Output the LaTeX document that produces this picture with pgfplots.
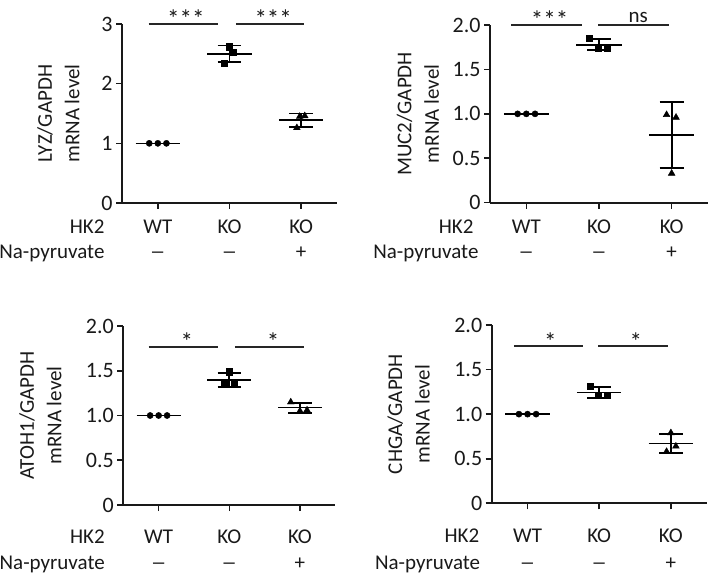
\documentclass[border=0pt]{standalone}
\usepackage{pgfplots}
\pgfplotsset{compat=1.18}
\usepackage{graphicx}
\usepackage{fontspec}
\setmainfont{Carlito}
\newcommand{\fs}{\fontsize{21}{27.5}\selectfont}
\newcommand{\fsk}{\fontsize{22}{27}\selectfont}
\newcommand{\fst}{\fontsize{25}{27}\selectfont}
\newcommand{\dash}{\scalebox{1.5}[1]{–}}
\tikzset{lab/.style={font=\fs, text=black!90}, star/.style={font=\fst, text=black!90}}
\pgfplotsset{
 panel/.style={
  scale only axis, anchor=south west,
  axis lines=left, axis line style={-, line width=1.8pt, black!90},
  xmin=-0.5, xmax=2.5, ymin=0,
  xtick={0,1,2}, xticklabels={},
  tick align=outside, major tick length=6pt,
  every tick/.style={line width=1.6pt, black!90},
  tick label style={font=\fsk, text=black!90},
  /pgf/number format/assume math mode=true,
  clip=false, enlargelimits=false,
 },
 wt/.style={only marks, mark=*, mark size=3.1pt, black},
 ko/.style={only marks, mark=square*, mark size=3.1pt, black},
 py/.style={only marks, mark=triangle*, mark size=3.9pt, black},
 meanl/.style={black, line width=1.4pt},
 eb/.style={black, line width=1.9pt},
 sig/.style={black!85, line width=2pt},
}
\begin{document}
\begin{tikzpicture}
\path[use as bounding box] (0pt,0pt) rectangle (713pt,576pt);

% ---------------- Panel 1: LYZ ----------------
\begin{axis}[panel, at={(122pt,373pt)}, width=215pt, height=179pt, ymax=3, ytick={0,1,2,3}]
\addplot[wt] coordinates {(-0.12,1)(0,1)(0.12,1)};
\addplot[meanl] coordinates {(-0.31,1)(0.31,1)};
\addplot[ko] coordinates {(1.0,2.62)(1.05,2.53)(0.93,2.34)};
\addplot[meanl] coordinates {(0.69,2.50)(1.31,2.50)};
\addplot[eb] coordinates {(1,2.36)(1,2.64)};
\addplot[eb] coordinates {(0.835,2.64)(1.165,2.64)};
\addplot[eb] coordinates {(0.835,2.36)(1.165,2.36)};
\addplot[py] coordinates {(1.98,1.45)(2.05,1.46)(1.94,1.26)};
\addplot[meanl] coordinates {(1.69,1.39)(2.31,1.39)};
\addplot[eb] coordinates {(2,1.28)(2,1.50)};
\addplot[eb] coordinates {(1.835,1.50)(2.165,1.50)};
\addplot[eb] coordinates {(1.835,1.28)(2.165,1.28)};
\addplot[sig] coordinates {(-0.13,3.0)(0.84,3.0)};
\addplot[sig] coordinates {(1.09,3.0)(2.04,3.0)};
\node[star, anchor=base] at ([yshift=-4pt]axis cs:0.39,3.0) {***};
\node[star, anchor=base] at ([yshift=-4pt]axis cs:1.61,3.0) {***};
\node[lab, rotate=90, align=center] at ([xshift=-63.5pt]rel axis cs:0,0.5) {LYZ/GAPDH\\mRNA level};
\node[lab, anchor=base] at ([yshift=-31pt]axis cs:0,0) {WT};
\node[lab, anchor=base] at ([yshift=-31pt]axis cs:1,0) {KO};
\node[lab, anchor=base] at ([yshift=-31pt]axis cs:2,0) {KO};
\node[lab, anchor=base] at ([yshift=-55.5pt]axis cs:0,0) {\dash};
\node[lab, anchor=base] at ([yshift=-55.5pt]axis cs:1,0) {\dash};
\node[lab, anchor=base] at ([yshift=-55.5pt]axis cs:2,0) {+};
\node[lab, anchor=base east] at ([xshift=-14pt,yshift=-31pt]axis cs:-0.5,0) {HK2};
\node[lab, anchor=base east] at ([xshift=-14pt,yshift=-55.5pt]axis cs:-0.5,0) {Na-pyruvate};
\end{axis}

% ---------------- Panel 2: MUC2 ----------------
\begin{axis}[panel, at={(490pt,373.3pt)}, width=218pt, height=177.7pt, ymax=2, ytick={0,0.5,1,1.5,2}, yticklabels={0,0.5,1.0,1.5,2.0}]
\addplot[wt] coordinates {(-0.12,1)(0,1)(0.12,1)};
\addplot[meanl] coordinates {(-0.31,1)(0.31,1)};
\addplot[ko] coordinates {(0.87,1.85)(0.99,1.74)(1.11,1.74)};
\addplot[meanl] coordinates {(0.69,1.777)(1.31,1.777)};
\addplot[eb] coordinates {(1,1.715)(1,1.84)};
\addplot[eb] coordinates {(0.835,1.84)(1.165,1.84)};
\addplot[eb] coordinates {(0.835,1.715)(1.165,1.715)};
\addplot[py] coordinates {(1.93,0.99)(2.06,0.96)(2.0,0.33)};
\addplot[meanl] coordinates {(1.69,0.76)(2.31,0.76)};
\addplot[eb] coordinates {(2,0.387)(2,1.133)};
\addplot[eb] coordinates {(1.835,1.133)(2.165,1.133)};
\addplot[eb] coordinates {(1.835,0.387)(2.165,0.387)};
\addplot[sig] coordinates {(-0.21,2.0)(0.77,2.0)};
\addplot[sig] coordinates {(0.99,2.0)(1.97,2.0)};
\node[star, anchor=base] at ([yshift=-4pt]axis cs:0.32,2.0) {***};
\node[lab, anchor=base] at ([yshift=2.6pt]axis cs:1.54,2.0) {ns};
\node[lab, rotate=90, align=center] at ([xshift=-72pt]rel axis cs:0,0.5) {MUC2/GAPDH\\mRNA level};
\node[lab, anchor=base] at ([yshift=-30.8pt]axis cs:0,0) {WT};
\node[lab, anchor=base] at ([yshift=-30.8pt]axis cs:1,0) {KO};
\node[lab, anchor=base] at ([yshift=-30.8pt]axis cs:2,0) {KO};
\node[lab, anchor=base] at ([yshift=-55.5pt]axis cs:0,0) {\dash};
\node[lab, anchor=base] at ([yshift=-55.5pt]axis cs:1,0) {\dash};
\node[lab, anchor=base] at ([yshift=-55.5pt]axis cs:2,0) {+};
\node[lab, anchor=base east] at ([xshift=-13pt,yshift=-30.8pt]axis cs:-0.5,0) {HK2};
\node[lab, anchor=base east] at ([xshift=-8pt,yshift=-55.5pt]axis cs:-0.5,0) {Na-pyruvate};
\end{axis}

% ---------------- Panel 3: ATOH1 ----------------
\begin{axis}[panel, at={(123.3pt,71pt)}, width=212pt, height=179pt, ymax=2, ytick={0,0.5,1,1.5,2}, yticklabels={0,0.5,1.0,1.5,2.0}]
\addplot[wt] coordinates {(-0.12,1)(0,1)(0.12,1)};
\addplot[meanl] coordinates {(-0.31,1)(0.31,1)};
\addplot[ko] coordinates {(1.0,1.49)(0.93,1.35)(1.07,1.35)};
\addplot[meanl] coordinates {(0.69,1.397)(1.31,1.397)};
\addplot[eb] coordinates {(1,1.316)(1,1.478)};
\addplot[eb] coordinates {(0.835,1.478)(1.165,1.478)};
\addplot[eb] coordinates {(0.835,1.316)(1.165,1.316)};
\addplot[py] coordinates {(1.87,1.15)(2.1,1.06)(2.0,1.05)};
\addplot[meanl] coordinates {(1.69,1.087)(2.31,1.087)};
\addplot[eb] coordinates {(2,1.032)(2,1.142)};
\addplot[eb] coordinates {(1.835,1.142)(2.165,1.142)};
\addplot[eb] coordinates {(1.835,1.032)(2.165,1.032)};
\addplot[sig] coordinates {(-0.14,1.77)(0.84,1.77)};
\addplot[sig] coordinates {(1.08,1.77)(2.05,1.77)};
\node[star, anchor=base] at ([yshift=-4pt]axis cs:0.40,1.77) {*};
\node[star, anchor=base] at ([yshift=-4pt]axis cs:1.62,1.77) {*};
\node[lab, rotate=90, align=center] at ([xshift=-83pt]rel axis cs:0,0.5) {ATOH1/GAPDH\\mRNA level};
\node[lab, anchor=base] at ([yshift=-38.2pt]axis cs:0,0) {WT};
\node[lab, anchor=base] at ([yshift=-38.2pt]axis cs:1,0) {KO};
\node[lab, anchor=base] at ([yshift=-38.2pt]axis cs:2,0) {KO};
\node[lab, anchor=base] at ([yshift=-64.8pt]axis cs:0,0) {\dash};
\node[lab, anchor=base] at ([yshift=-64.8pt]axis cs:1,0) {\dash};
\node[lab, anchor=base] at ([yshift=-64.8pt]axis cs:2,0) {+};
\node[lab, anchor=base east] at ([xshift=-15pt,yshift=-38.2pt]axis cs:-0.5,0) {HK2};
\node[lab, anchor=base east] at ([xshift=-15pt,yshift=-64.8pt]axis cs:-0.5,0) {Na-pyruvate};
\end{axis}

% ---------------- Panel 4: CHGA ----------------
\begin{axis}[panel, at={(491.7pt,72.7pt)}, width=215pt, height=178.3pt, ymax=2, ytick={0,0.5,1,1.5,2}, yticklabels={0,0.5,1.0,1.5,2.0}]
\addplot[wt] coordinates {(-0.12,1)(0,1)(0.12,1)};
\addplot[meanl] coordinates {(-0.31,1)(0.31,1)};
\addplot[ko] coordinates {(0.87,1.31)(0.99,1.21)(1.11,1.21)};
\addplot[meanl] coordinates {(0.69,1.243)(1.31,1.243)};
\addplot[eb] coordinates {(1,1.185)(1,1.30)};
\addplot[eb] coordinates {(0.835,1.30)(1.165,1.30)};
\addplot[eb] coordinates {(0.835,1.185)(1.165,1.185)};
\addplot[py] coordinates {(2.0,0.79)(2.07,0.64)(1.94,0.58)};
\addplot[meanl] coordinates {(1.69,0.67)(2.31,0.67)};
\addplot[eb] coordinates {(2,0.562)(2,0.778)};
\addplot[eb] coordinates {(1.835,0.778)(2.165,0.778)};
\addplot[eb] coordinates {(1.835,0.562)(2.165,0.562)};
\addplot[sig] coordinates {(-0.19,1.76)(0.77,1.76)};
\addplot[sig] coordinates {(0.99,1.76)(1.96,1.76)};
\node[star, anchor=base] at ([yshift=-4pt]axis cs:0.32,1.76) {*};
\node[star, anchor=base] at ([yshift=-4pt]axis cs:1.51,1.76) {*};
\node[lab, rotate=90, align=center] at ([xshift=-83pt]rel axis cs:0,0.5) {CHGA/GAPDH\\mRNA level};
\node[lab, anchor=base] at ([yshift=-39.5pt]axis cs:0,0) {WT};
\node[lab, anchor=base] at ([yshift=-39.5pt]axis cs:1,0) {KO};
\node[lab, anchor=base] at ([yshift=-39.5pt]axis cs:2,0) {KO};
\node[lab, anchor=base] at ([yshift=-66.5pt]axis cs:0,0) {\dash};
\node[lab, anchor=base] at ([yshift=-66.5pt]axis cs:1,0) {\dash};
\node[lab, anchor=base] at ([yshift=-66.5pt]axis cs:2,0) {+};
\node[lab, anchor=base east] at ([xshift=-9pt,yshift=-39.5pt]axis cs:-0.5,0) {HK2};
\node[lab, anchor=base east] at ([xshift=-8pt,yshift=-66.5pt]axis cs:-0.5,0) {Na-pyruvate};
\end{axis}
\end{tikzpicture}
\end{document}
